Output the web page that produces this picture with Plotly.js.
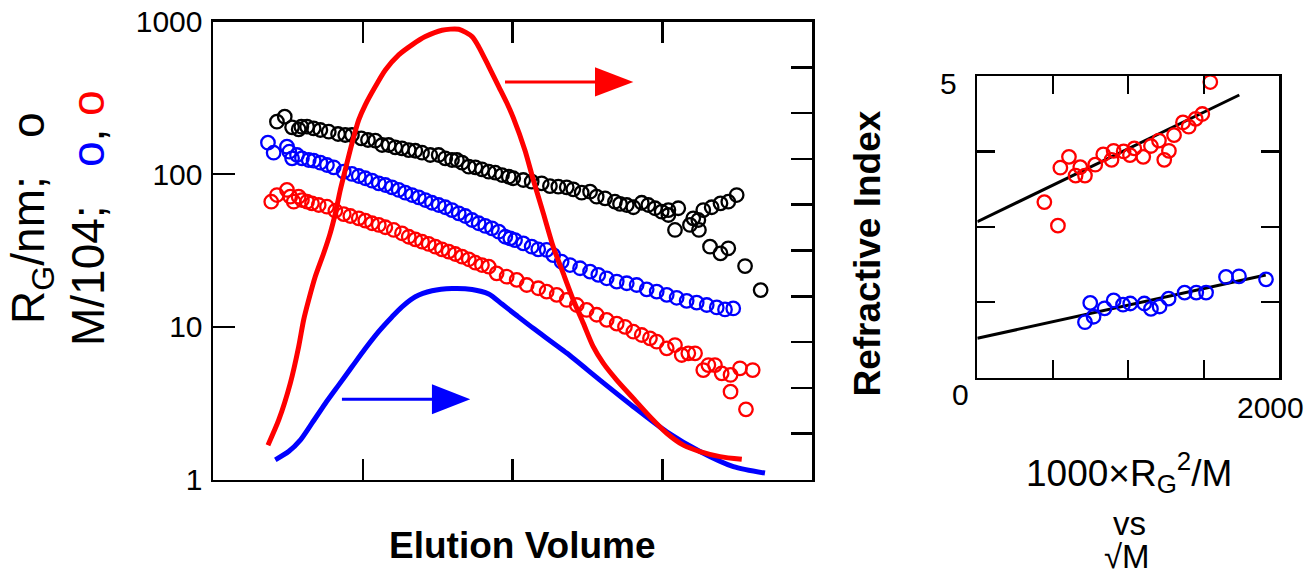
<!DOCTYPE html>
<html><head><meta charset="utf-8">
<script src="https://cdn.plot.ly/plotly-3.0.1.min.js"></script>
<style>html,body{margin:0;padding:0;background:#fff}#chart{width:1313px;height:575px}</style>
</head><body><div id="chart"></div>
<script>
// ---- Main panel: elution profiles (x = elution volume, arbitrary units 0-4) ----
const blackX = [0.427,0.479,0.528,0.572,0.590,0.628,0.672,0.717,0.773,0.835,0.883,0.928,0.990,1.035,1.084,1.129,1.173,1.217,1.262,1.307,1.351,1.396,1.451,1.507,1.551,1.596,1.629,1.663,1.708,1.752,1.796,1.841,1.885,1.930,1.975,2.005,2.072,2.128,2.195,2.250,2.306,2.362,2.406,2.462,2.518,2.562,2.618,2.684,2.718,2.763,2.807,2.863,2.907,2.952,2.996,3.041,3.041,3.107,3.085,3.185,3.207,3.241,3.245,3.274,3.330,3.389,3.441,3.497,3.319,3.389,3.441,3.553,3.657];
const blackY = [220.6,237.9,202.8,196.7,204.6,204.6,199.7,194.6,189.7,183.3,180.5,180.5,171.7,167.4,165.7,155.2,155.2,149.9,147.7,143.9,142.4,138.2,133.5,133.5,127.0,123.8,123.8,118.9,111.9,110.9,107.6,103.8,102.2,98.7,96.2,94.0,91.6,89.3,87.1,83.6,82.8,82.0,79.6,75.6,76.8,71.2,69.5,66.0,63.8,62.8,60.7,65.0,62.8,59.8,56.8,58.2,54.0,59.8,43.1,46.5,51.4,50.1,43.1,58.2,60.7,64.4,66.0,73.0,33.5,30.3,32.7,25.0,17.4];

const blueX = [0.367,0.405,0.494,0.510,0.528,0.561,0.594,0.639,0.672,0.717,0.761,0.806,0.873,0.928,0.973,1.017,1.062,1.107,1.151,1.195,1.240,1.284,1.329,1.374,1.418,1.462,1.507,1.551,1.596,1.641,1.685,1.730,1.774,1.818,1.863,1.908,1.952,1.985,2.017,2.072,2.128,2.172,2.228,2.272,2.328,2.384,2.451,2.518,2.573,2.629,2.696,2.763,2.829,2.896,2.963,3.030,3.096,3.163,3.230,3.297,3.364,3.419,3.474];
const blueY = [160.7,138.2,151.3,140.3,127.0,133.5,127.0,123.8,122.5,118.9,114.8,110.9,103.8,100.3,97.3,94.0,90.6,87.1,84.9,82.0,78.8,75.6,73.0,70.5,67.7,65.0,62.8,60.7,58.2,55.4,53.2,50.1,47.7,45.8,44.2,42.0,38.9,38.0,37.0,35.2,33.5,32.2,31.9,29.5,26.7,25.4,24.2,23.0,21.9,20.8,19.8,19.3,18.8,17.6,17.0,16.2,15.5,14.8,14.4,13.9,13.4,13.0,13.2];

const redX = [0.389,0.427,0.494,0.516,0.539,0.572,0.594,0.628,0.661,0.706,0.761,0.817,0.873,0.917,0.973,1.017,1.062,1.107,1.151,1.207,1.262,1.307,1.351,1.396,1.440,1.485,1.529,1.574,1.618,1.663,1.708,1.752,1.796,1.841,1.894,1.961,2.028,2.095,2.172,2.228,2.295,2.362,2.429,2.495,2.562,2.629,2.696,2.751,2.807,2.863,2.918,2.963,3.030,3.085,3.130,3.174,3.219,3.274,3.308,3.352,3.397,3.456,3.519,3.604,3.456,3.559];
const redY = [66.0,73.0,78.8,71.2,66.0,71.2,67.7,66.0,64.4,62.8,61.2,57.6,54.8,53.2,51.4,49.6,47.7,46.5,44.9,43.1,41.0,38.9,37.4,36.1,34.9,33.5,32.2,31.1,30.0,28.8,27.7,26.3,25.4,24.8,22.4,21.3,20.3,18.8,17.9,17.0,16.2,15.0,13.9,12.9,12.0,11.1,10.5,10.0,9.29,8.84,8.41,7.99,7.23,7.60,6.54,6.71,6.71,5.21,5.62,5.62,4.96,4.84,5.35,5.21,3.76,2.88];

// detector traces (right-hand linear axis, 0-10)
const riCurveX = [0.367,0.439,0.516,0.572,0.605,0.639,0.683,0.739,0.783,0.817,0.850,0.883,0.928,0.973,1.017,1.084,1.151,1.240,1.329,1.418,1.529,1.641,1.730,1.774,1.841,1.908,1.961,2.005,2.083,2.139,2.206,2.272,2.339,2.406,2.473,2.539,2.606,2.696,2.807,2.918,3.030,3.141,3.252,3.386,3.531];
const riCurveY = [0.75,1.30,2.10,2.90,3.48,3.92,4.43,4.94,5.38,5.81,6.32,6.76,7.34,7.85,8.18,8.58,8.94,9.27,9.49,9.67,9.81,9.83,9.67,9.45,9.02,8.58,8.23,7.90,7.19,6.54,5.81,5.08,4.50,3.92,3.41,2.90,2.54,2.17,1.77,1.37,1.01,0.75,0.61,0.50,0.44];
const lsCurveX = [0.416,0.505,0.583,0.661,0.750,0.839,0.928,1.017,1.106,1.195,1.262,1.351,1.463,1.596,1.730,1.841,1.930,2.028,2.139,2.362,2.584,2.807,3.030,3.252,3.475,3.686];
const lsCurveY = [0.43,0.61,0.86,1.23,1.66,2.06,2.46,2.86,3.23,3.55,3.77,3.99,4.12,4.17,4.15,4.05,3.83,3.58,3.30,2.76,2.17,1.59,1.04,0.61,0.28,0.14];

const mainXTicks = [1,2,3];
const logTickVals = [1,10,100,1000];
const logTickText = ["1","10","100","1000"];
const rightTicks = [1,2,3,4,5,6,7,8,9];

// arrows (x in elution units, y on right axis)
const redArrow  = {x0:1.950, x1:2.551, tip:2.807, y:8.68, h:0.32};
const blueArrow = {x0:0.861, x1:1.462, tip:1.718, y:1.751, h:0.327};

// ---- Inset: refractive index vs 1000*Rg^2/M ----
const insRedX = [444,534,550,607,651,682,713,781,834,889,903,969,1011,1040,1099,1150,1203,1238,1269,1303,1362,1400,1446,1490,1543];
const insRedY = [2.91,2.52,3.48,3.66,3.35,3.49,3.35,3.53,3.70,3.61,3.76,3.75,3.69,3.80,3.66,3.84,3.93,3.61,3.76,4.02,4.23,4.16,4.29,4.37,4.90];
const insBlueX = [713,748,770,843,903,965,1013,1106,1150,1207,1267,1373,1450,1515,1647,1733,1912];
const insBlueY = [0.92,1.24,1.01,1.15,1.28,1.21,1.23,1.23,1.14,1.18,1.31,1.41,1.41,1.41,1.67,1.68,1.63];
const fitRedX = [0,1735], fitRedY = [2.585,4.685];
const fitBlueX = [0,1910], fitBlueY = [0.653,1.702];
const insXTicks = [500,1000,1500];
const insYTicks = [1.25,2.5,3.75];

const W = 1313, H = 575;
const fx = p => p / W, fy = p => 1 - p / H;
const FONT = "Liberation Sans, Arial, Helvetica, sans-serif";

function markers(x, y, color, xa, ya) {
  return {x, y, xaxis: xa, yaxis: ya, type: 'scatter', mode: 'markers', cliponaxis: false,
    marker: {symbol: 'circle-open', size: 13.5, color: color, line: {color: color, width: 2.3}}};
}

const traces = [
  markers(blackX, blackY, 'black', 'x', 'y'),
  markers(blueX, blueY, '#0000ff', 'x', 'y'),
  markers(redX, redY, '#ff0000', 'x', 'y'),
  {x: lsCurveX, y: lsCurveY, xaxis: 'x', yaxis: 'y2', type: 'scatter', mode: 'lines',
   line: {color: '#0000ff', width: 5, shape: 'spline', smoothing: 0.7}},
  {x: riCurveX, y: riCurveY, xaxis: 'x', yaxis: 'y2', type: 'scatter', mode: 'lines',
   line: {color: '#ff0000', width: 5, shape: 'spline', smoothing: 0.7}},
  {x: fitRedX, y: fitRedY, xaxis: 'x2', yaxis: 'y3', type: 'scatter', mode: 'lines', line: {color: 'black', width: 3}},
  {x: fitBlueX, y: fitBlueY, xaxis: 'x2', yaxis: 'y3', type: 'scatter', mode: 'lines', line: {color: 'black', width: 3}},
  markers(insRedX, insRedY, '#ff0000', 'x2', 'y3'),
  markers(insBlueX, insBlueY, '#0000ff', 'x2', 'y3')
];

const axBase = {showline: true, linecolor: 'black', linewidth: 2.5, showgrid: false, zeroline: false,
  ticks: 'inside', tickcolor: 'black', tickwidth: 2.5, fixedrange: true};

function arrowShapes(a, color) {
  return [
    {type: 'line', xref: 'x', yref: 'y2', x0: a.x0, x1: a.x1 + 0.02, y0: a.y, y1: a.y, line: {color, width: 3}},
    {type: 'path', xref: 'x', yref: 'y2', fillcolor: color, line: {width: 0},
     path: `M ${a.x1},${a.y + a.h} L ${a.tip},${a.y} L ${a.x1},${a.y - a.h} Z`}
  ];
}

const layout = {
  width: W, height: H, margin: {l: 0, r: 0, t: 0, b: 0},
  paper_bgcolor: 'white', plot_bgcolor: 'rgba(0,0,0,0)', showlegend: false,
  font: {family: FONT, color: 'black', size: 30},
  xaxis: Object.assign({}, axBase, {domain: [fx(213), fx(812)], range: [0, 4], tickvals: mainXTicks,
    ticklen: 21, mirror: 'ticks', showticklabels: false, anchor: 'y'}),
  yaxis: Object.assign({}, axBase, {domain: [fy(479.5), fy(21.5)], type: 'log', range: [0, 3],
    tickvals: logTickVals, ticktext: logTickText, ticklen: 22, tickfont: {size: 30, family: FONT},
    ticklabelstandoff: 2, anchor: 'x'}),
  yaxis2: Object.assign({}, axBase, {overlaying: 'y', side: 'right', anchor: 'x', range: [0, 10],
    tickvals: rightTicks, ticklen: 21, showticklabels: false}),
  xaxis2: Object.assign({}, axBase, {domain: [fx(977.3), fx(1279.3)], range: [0, 2000], tickvals: insXTicks,
    ticklen: 18, mirror: 'ticks', showticklabels: false, anchor: 'y3', linewidth: 2.2, tickwidth: 2.2}),
  yaxis3: Object.assign({}, axBase, {domain: [fy(377.7), fy(76)], range: [0, 5], tickvals: insYTicks,
    ticklen: 18, mirror: 'ticks', showticklabels: false, anchor: 'x2', linewidth: 2.2, tickwidth: 2.2}),
  shapes: [...arrowShapes(redArrow, '#ff0000'), ...arrowShapes(blueArrow, '#0000ff')],
  annotations: [
    {xref: 'paper', yref: 'paper', x: fx(58), y: fy(218), showarrow: false, textangle: -90,
     xanchor: 'center', yanchor: 'middle', font: {size: 46, family: FONT},
     text: 'R<sub>G</sub>/nm;\u00a0\u00a0\u00a0<span style="color:black">o</span><br>M/104;\u00a0\u00a0\u00a0<span style="color:#0000ff">o</span>,\u00a0<span style="color:#ff0000">o</span>'},
    {xref: 'paper', yref: 'paper', x: fx(522), y: fy(545), showarrow: false, xanchor: 'center', yanchor: 'middle',
     font: {size: 37, family: FONT}, text: '<b>Elution Volume</b>'},
    {xref: 'paper', yref: 'paper', x: fx(867), y: fy(253.5), showarrow: false, textangle: -90,
     xanchor: 'center', yanchor: 'middle', font: {size: 37, family: FONT}, text: '<b>Refractive Index</b>'},
    {xref: 'paper', yref: 'paper', x: fx(948.5), y: fy(83.5), showarrow: false, xanchor: 'center', yanchor: 'middle',
     font: {size: 30, family: FONT}, text: '5'},
    {xref: 'paper', yref: 'paper', x: fx(960.5), y: fy(394), showarrow: false, xanchor: 'center', yanchor: 'middle',
     font: {size: 30, family: FONT}, text: '0'},
    {xref: 'paper', yref: 'paper', x: fx(1270), y: fy(408), showarrow: false, xanchor: 'center', yanchor: 'middle',
     font: {size: 30, family: FONT}, text: '2000'},
    {xref: 'paper', yref: 'paper', x: fx(1129), y: fy(472), showarrow: false, xanchor: 'center', yanchor: 'middle',
     font: {size: 37, family: FONT}, text: '1000\u00d7R<sub>G</sub><sup>2</sup>/M'},
    {xref: 'paper', yref: 'paper', x: fx(1129), y: fy(523), showarrow: false, xanchor: 'center', yanchor: 'middle',
     font: {size: 33, family: FONT}, text: 'vs'},
    {xref: 'paper', yref: 'paper', x: fx(1127), y: fy(556), showarrow: false, xanchor: 'center', yanchor: 'middle',
     font: {size: 33, family: FONT}, text: '\u221aM'}
  ]
};

Plotly.newPlot('chart', traces, layout, {displayModeBar: false, staticPlot: true});
</script></body></html>
